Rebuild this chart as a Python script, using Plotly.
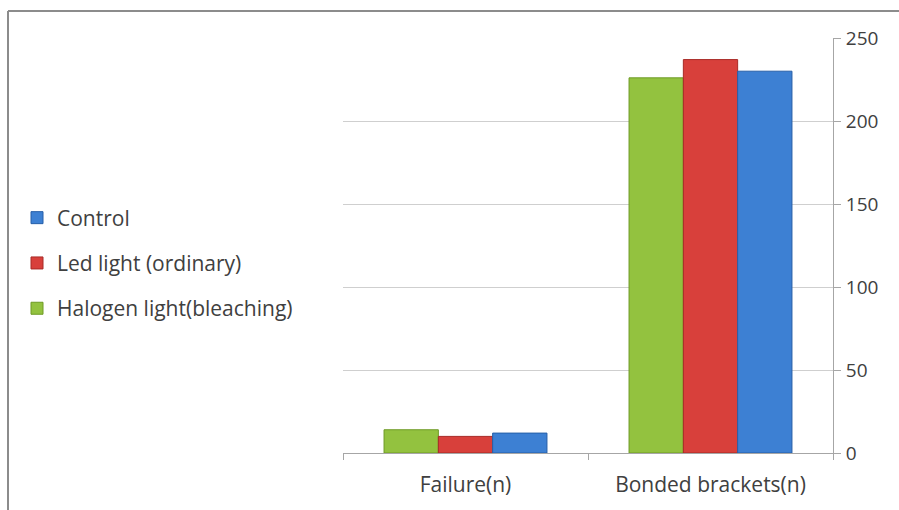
import plotly.graph_objects as go

categories = ["Failure(n)", "Bonded brackets(n)"]
halogen = [14, 226]
led = [10, 237]
control = [12, 230]
y_ticks = [0, 50, 100, 150, 200, 250]

series = [
    ("Halogen light(bleaching)", halogen, "#93C23F", "#6E9A25", 3),
    ("Led light (ordinary)", led, "#D8403B", "#A82A26", 2),
    ("Control", control, "#3D80D3", "#275FA8", 1),
]

FONT = "Open Sans"
TXT = "#404040"

fig = go.Figure()
for i, (name, vals, col, edge, rank) in enumerate(series):
    fig.add_trace(go.Bar(
        x=categories, y=vals, name=name,
        marker=dict(color=col, line=dict(color=edge, width=1)),
        legendgroup=f"g{i}", legendrank=rank,
    ))

W, H = 899, 510
L, R, T, B = 343, 66, 38, 57
pw, ph = W - L - R, H - T - B

def px_x(x):
    return (x - L) / pw

def px_y(y):
    return (H - B - y) / ph

fig.update_layout(
    width=W, height=H,
    margin=dict(l=L, r=R, t=T, b=B),
    paper_bgcolor="white", plot_bgcolor="white",
    barmode="group", bargap=0.335, bargroupgap=0,
    font=dict(family=FONT, size=21, color=TXT),
    showlegend=True,
    legend=dict(
        x=px_x(17), y=px_y(263), xanchor="left", yanchor="middle",
        traceorder="grouped", tracegroupgap=15,
        font=dict(family=FONT, size=21, color=TXT),
        bgcolor="rgba(0,0,0,0)", itemwidth=30,
    ),
    xaxis=dict(
        showline=True, linecolor="#A6A6A6", linewidth=1,
        ticks="outside", tickson="boundaries", ticklen=6, tickcolor="#A6A6A6",
        tickfont=dict(family=FONT, size=21, color=TXT),
        showgrid=False, ticklabelstandoff=13,
    ),
    yaxis=dict(
        side="right", range=[0, 250], tickvals=y_ticks,
        showline=True, linecolor="#A6A6A6", linewidth=1,
        ticks="outside", ticklen=7, tickcolor="#A6A6A6",
        showgrid=True, gridcolor="#CFCFCF", gridwidth=1,
        zeroline=False,
        tickfont=dict(family=FONT, size=19, color=TXT),
        ticklabelstandoff=1,
    ),
    shapes=[
        dict(type="line", xref="paper", yref="paper",
             x0=px_x(8), x1=px_x(899), y0=px_y(11), y1=px_y(11),
             line=dict(color="#8C8C8C", width=2)),
        dict(type="line", xref="paper", yref="paper",
             x0=px_x(8), x1=px_x(8), y0=px_y(11), y1=px_y(512),
             line=dict(color="#8C8C8C", width=2)),
    ],
)

fig.write_html("out.html")
